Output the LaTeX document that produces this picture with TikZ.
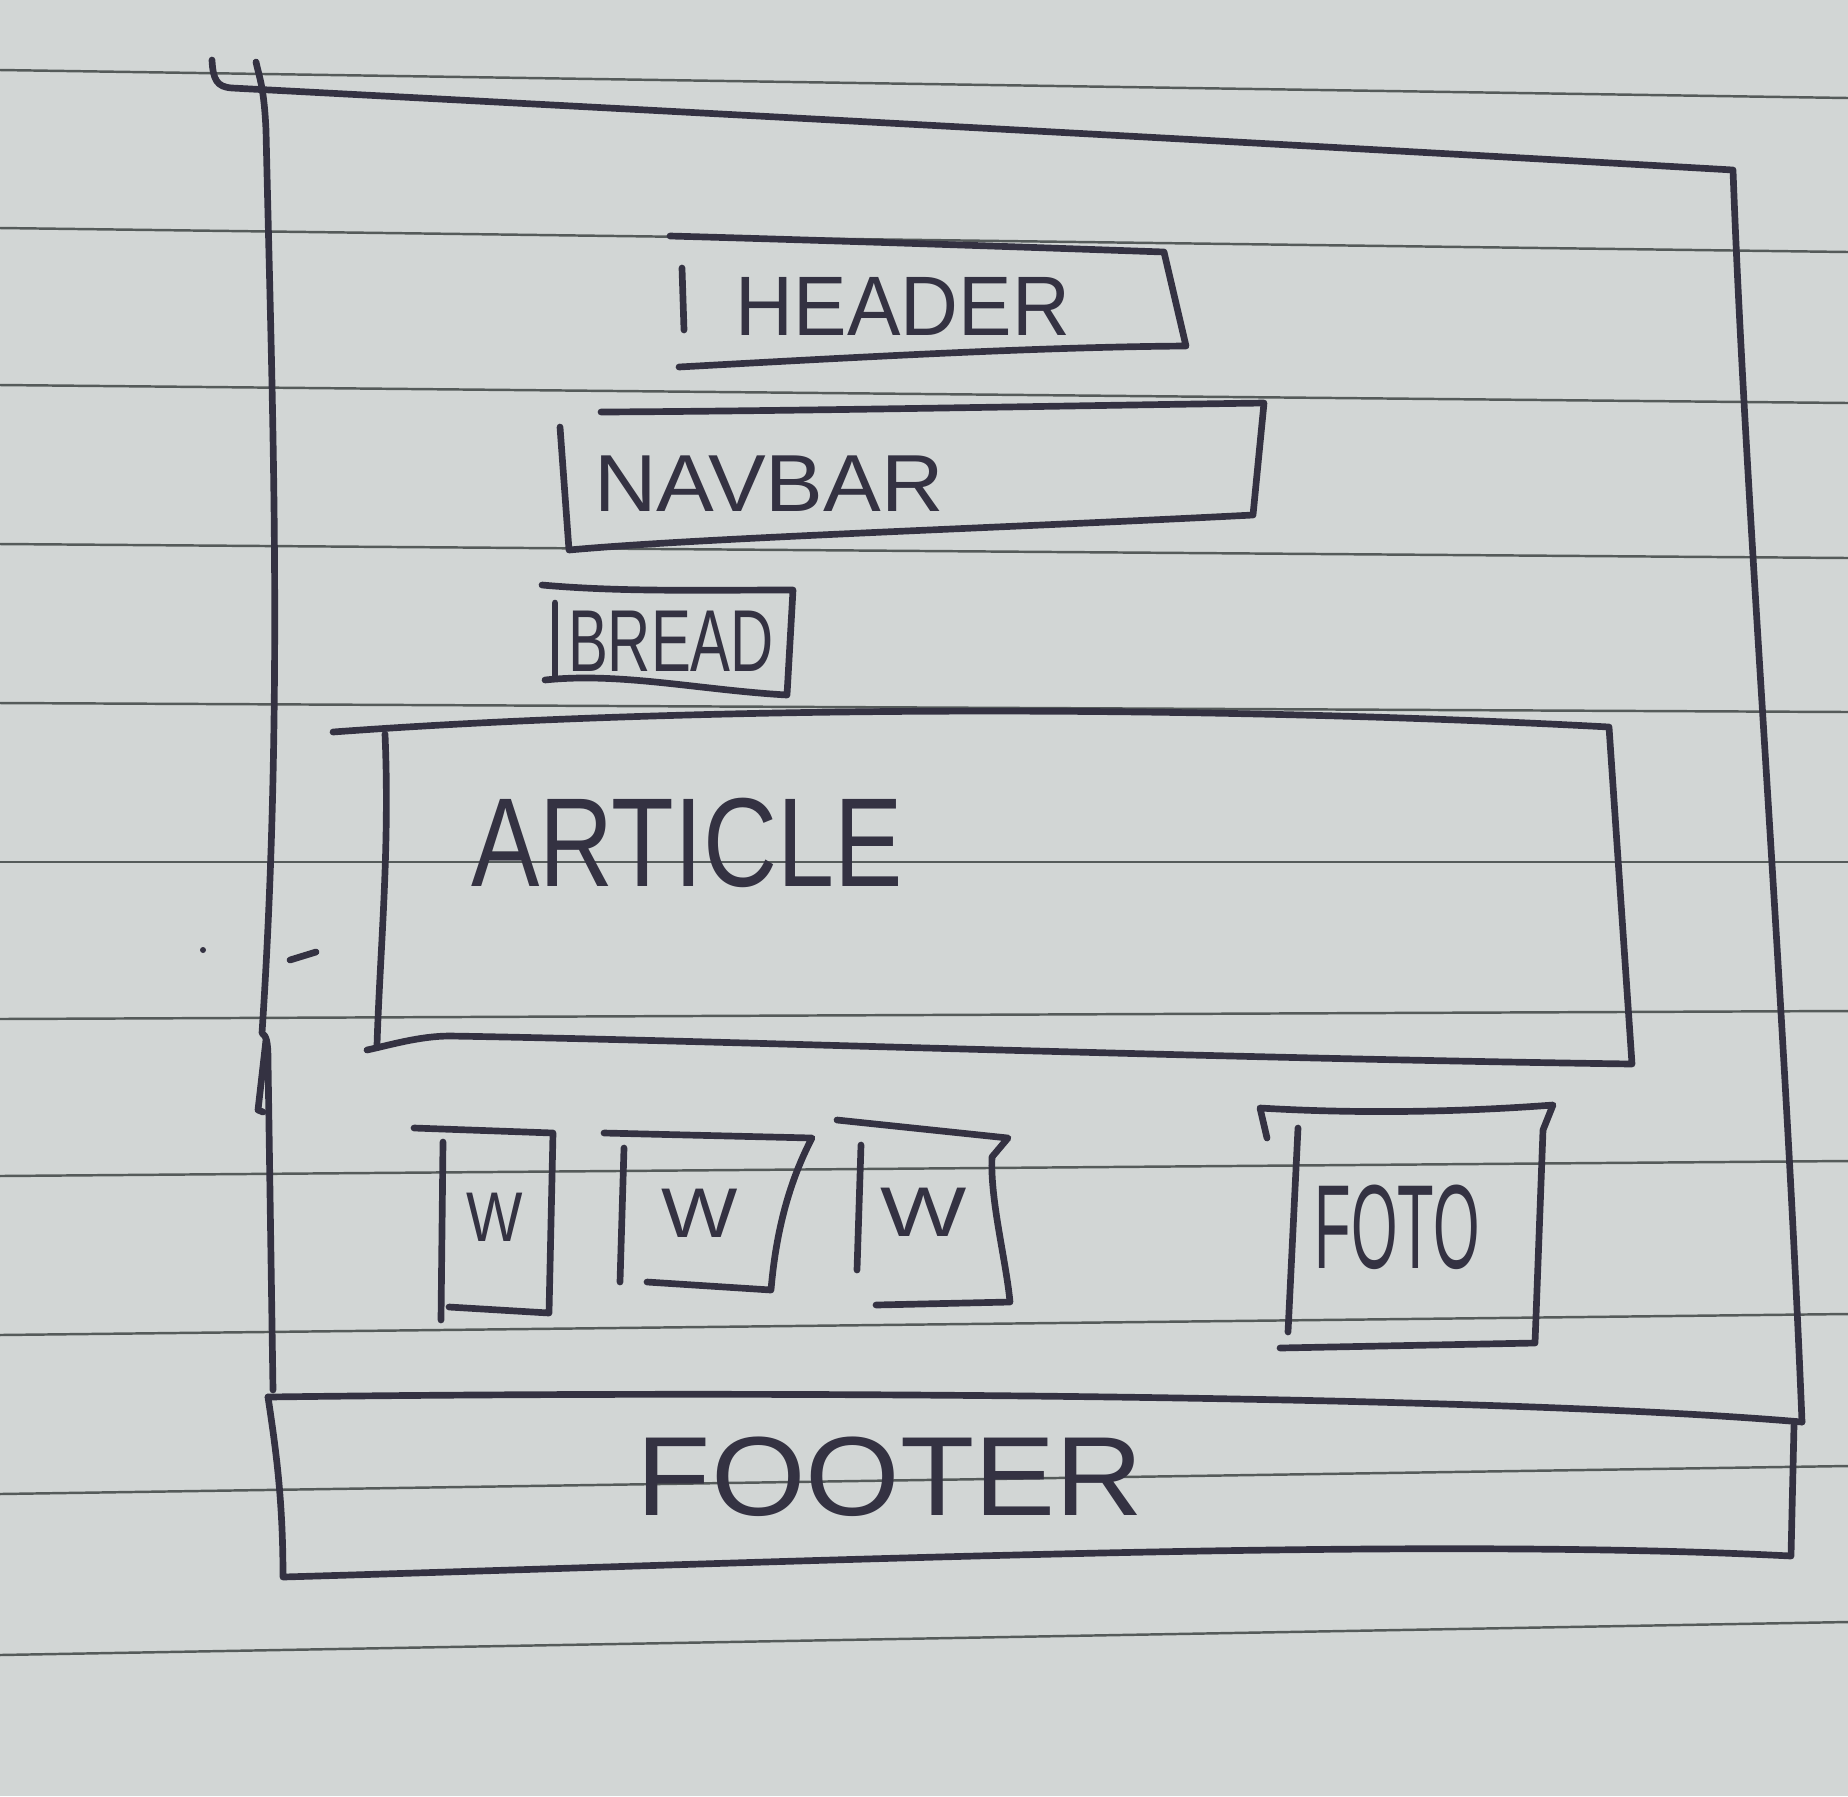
\documentclass[tikz,border=0pt]{standalone}
\usepackage{fontspec}
\setmainfont{Liberation Sans}
\definecolor{paper}{RGB}{210,214,213}
\definecolor{ruling}{RGB}{85,91,90}
\definecolor{ink}{RGB}{52,50,66}

\begin{document}
\begin{tikzpicture}[x=0.01cm,y=-0.01cm,
    inkline/.style={draw=ink, line width=1.9pt, line cap=round, line join=round},
    ruled/.style={draw=ruling, line width=0.7pt},
    scribble/.style={text=ink, inner sep=0pt, font=\fontsize{#1}{#1}\selectfont}]
    \useasboundingbox (0,0) rectangle (1848,1796);
    \fill[paper] (0,0) rectangle (1848,1796);
    % ruled paper
    \foreach \yl/\yr in {70/98, 228/252, 385/403, 544/558, 703/712, 862/862,
        1019/1011, 1176/1161, 1335/1314, 1494/1466, 1655/1622}
        \draw[ruled] (0,\yl) -- (1848,\yr);
    % page frame
    \draw[inkline] (212,60) .. controls (213,80) and (217,87) .. (232,88)
        .. controls (800,118) and (1300,145) .. (1733,170)
        .. controls (1745,500) and (1785,1000) .. (1802,1422);
    \draw[inkline] (256,62) .. controls (260,80) and (264,88) .. (266,130)
        .. controls (272,400) and (284,700) .. (262,1033)
        .. controls (266,1036) and (268,1040) .. (268,1060) -- (273,1390);
    \draw[inkline] (266,1040) -- (258,1110) -- (263,1112);
    \draw[inkline] (290,960) -- (316,952);
    \fill[ink] (203,950) circle (3);
    % footer
    \draw[inkline] (268,1397) .. controls (800,1390) and (1500,1396) .. (1802,1422);
    \draw[inkline] (268,1397) .. controls (276,1450) and (283,1500) .. (283,1577)
        .. controls (800,1562) and (1400,1536) .. (1791,1556) -- (1794,1425);
    % header
    \draw[inkline] (670,236) .. controls (850,241) and (1050,248) .. (1164,252)
        -- (1186,346) .. controls (1040,347) and (860,357) .. (679,367);
    \draw[inkline] (682,268) -- (684,330);
    % navbar
    \draw[inkline] (601,412) .. controls (800,411) and (1050,406) .. (1264,403)
        -- (1253,515) .. controls (1000,528) and (700,538) .. (569,550) -- (560,427);
    % breadcrumb
    \draw[inkline] (542,585) .. controls (620,592) and (700,590) .. (793,590)
        -- (787,695) .. controls (700,690) and (620,672) .. (545,680);
    \draw[inkline] (555,603) -- (555,677);
    % article
    \draw[inkline] (333,732) .. controls (700,705) and (1200,705) .. (1609,727)
        -- (1632,1064) .. controls (1200,1058) and (700,1040) .. (450,1036)
        .. controls (420,1036) and (390,1045) .. (367,1050);
    \draw[inkline] (385,734) .. controls (390,850) and (380,950) .. (377,1045);
    % widgets
    \draw[inkline] (414,1128) -- (553,1133) -- (549,1313) -- (449,1307);
    \draw[inkline] (443,1142) -- (441,1320);
    \draw[inkline] (604,1133) -- (812,1138)
        .. controls (790,1180) and (776,1230) .. (771,1290) -- (647,1282);
    \draw[inkline] (624,1148) -- (620,1282);
    \draw[inkline] (837,1120) -- (1008,1138) -- (992,1157)
        .. controls (990,1200) and (1006,1260) .. (1010,1302) -- (876,1305);
    \draw[inkline] (861,1145) -- (857,1270);
    % photo
    \draw[inkline] (1267,1138) -- (1260,1108) .. controls (1360,1114) and (1460,1112) .. (1553,1105)
        -- (1543,1130) -- (1535,1343) -- (1280,1348);
    \draw[inkline] (1298,1128) -- (1288,1332);
    % labels
    \node[scribble=24, xscale=0.95] (header) at (903,306) {HEADER};
    \node[scribble=23, xscale=1.07] (navbar) at (769,484) {NAVBAR};
    \node[scribble=25, xscale=0.68] (bread) at (671,641) {BREAD};
    \node[scribble=36, xscale=0.81] (article) at (687,843) {ARTICLE};
    \node[scribble=20, xscale=0.85] (widget1) at (495,1217) {W};
    \node[scribble=20, xscale=1.15] (widget2) at (700,1213) {W};
    \node[scribble=20, xscale=1.3] (widget3) at (924,1212) {W};
    \node[scribble=34, xscale=0.5] (foto) at (1397,1227) {FOTO};
    \node[scribble=32, xscale=1.08] (footer) at (890,1477) {FOOTER};
\end{tikzpicture}
\end{document}
